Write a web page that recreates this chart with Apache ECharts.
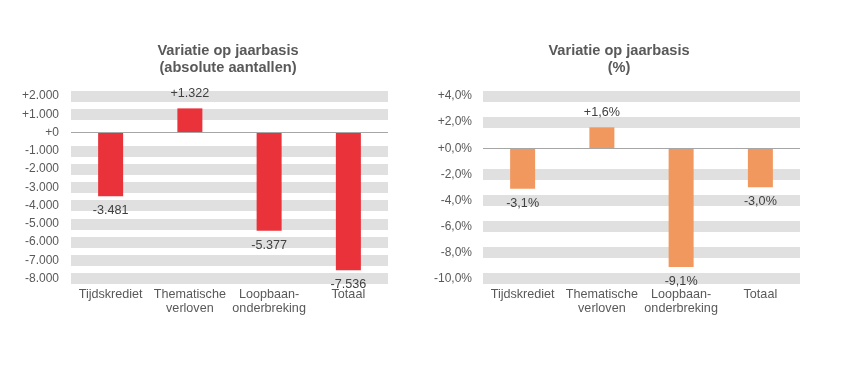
<!DOCTYPE html>
<html>
<head>
<meta charset="utf-8">
<script src="https://cdn.jsdelivr.net/npm/echarts@6/dist/echarts.min.js"></script>
<style>
html,body{margin:0;padding:0;background:#fff;}
#c{width:854px;height:370px;}
</style>
</head>
<body>
<div id="c"></div>
<script>
const categories = ['Tijdskrediet', 'Thematische\nverloven', 'Loopbaan-\nonderbreking', 'Totaal'];
const absValues = [-3481, 1322, -5377, -7536];
const pctValues = [-3.1, 1.6, -9.1, -3.0];
const absTicks = [-8000, -7000, -6000, -5000, -4000, -3000, -2000, -1000, 0, 1000, 2000];
const pctTicks = [-10, -8, -6, -4, -2, 0, 2, 4];
const leftTitle = 'Variatie op jaarbasis\n(absolute aantallen)';
const rightTitle = 'Variatie op jaarbasis\n(%)';

function fmtAbs(v) {
  const sign = v >= 0 ? '+' : '-';
  const s = String(Math.abs(Math.round(v))).replace(/\B(?=(\d{3})+(?!\d))/g, '.');
  return sign + s;
}
function fmtPct(v) {
  const sign = v >= 0 ? '+' : '-';
  return sign + Math.abs(v).toFixed(1).replace('.', ',') + '%';
}
function bandColors(ticks) {
  return ticks.map(t => t === 0 ? 'rgba(0,0,0,0)' : '#e0e0e0');
}
function barData(vals) {
  return vals.map(v => ({
    value: v,
    label: { position: v < 0 ? 'bottom' : 'top' }
  }));
}
const FONT = 'Liberation Sans, Arial, sans-serif';
const yFont = { fontFamily: FONT, fontSize: 12, color: '#595959' };
const xFont = { fontFamily: FONT, fontSize: 12.6, color: '#595959' };
const titleStyle = { fontFamily: FONT, fontSize: 14.6, fontWeight: 'bold', color: '#595959', lineHeight: 17.5 };

const chart = echarts.init(document.getElementById('c'), null, { renderer: 'canvas' });
chart.setOption({
  animation: false,
  backgroundColor: '#fff',
  title: [
    { text: leftTitle, left: 228, top: 42, textAlign: 'center', padding: 0, textStyle: titleStyle },
    { text: rightTitle, left: 619, top: 42, textAlign: 'center', padding: 0, textStyle: titleStyle }
  ],
  grid: [
    { left: 71, top: 96, width: 317, height: 182.7 },
    { left: 483, top: 96, width: 317, height: 182.7 }
  ],
  xAxis: [
    { type: 'category', gridIndex: 0, data: categories, position: 'bottom',
      axisLine: { show: false }, axisTick: { show: false }, splitLine: { show: false },
      axisLabel: Object.assign({ margin: 9, lineHeight: 14, interval: 0 }, xFont) },
    { type: 'category', gridIndex: 1, data: categories, position: 'bottom',
      axisLine: { show: false }, axisTick: { show: false }, splitLine: { show: false },
      axisLabel: Object.assign({ margin: 9, lineHeight: 14, interval: 0 }, xFont) }
  ],
  yAxis: [
    { type: 'value', gridIndex: 0, min: absTicks[0], max: absTicks[absTicks.length - 1], interval: 1000,
      axisLine: { show: false }, axisTick: { show: false },
      splitLine: { show: true, showMinLine: true, showMaxLine: true, lineStyle: { width: 11, color: bandColors(absTicks) } },
      axisLabel: Object.assign({ margin: 12, formatter: fmtAbs }, yFont) },
    { type: 'value', gridIndex: 1, min: pctTicks[0], max: pctTicks[pctTicks.length - 1], interval: 2,
      axisLine: { show: false }, axisTick: { show: false },
      splitLine: { show: true, showMinLine: true, showMaxLine: true, lineStyle: { width: 11, color: bandColors(pctTicks) } },
      axisLabel: Object.assign({ margin: 11, formatter: fmtPct }, yFont) }
  ],
  series: [
    { type: 'bar', xAxisIndex: 0, yAxisIndex: 0, barWidth: 25,
      itemStyle: { color: '#e9323a' },
      data: barData(absValues),
      label: { show: true, distance: 8, fontFamily: FONT, fontSize: 12.6, color: '#404040',
        formatter: p => fmtAbs(p.value) },
      markLine: { silent: true, symbol: 'none', label: { show: false },
        lineStyle: { color: '#a6a6a6', width: 1, type: 'solid' }, data: [{ yAxis: 0 }] } },
    { type: 'bar', xAxisIndex: 1, yAxisIndex: 1, barWidth: 25,
      itemStyle: { color: '#f1985e' },
      data: barData(pctValues),
      label: { show: true, distance: 8, fontFamily: FONT, fontSize: 12.6, color: '#404040',
        formatter: p => fmtPct(p.value) },
      markLine: { silent: true, symbol: 'none', label: { show: false },
        lineStyle: { color: '#a6a6a6', width: 1, type: 'solid' }, data: [{ yAxis: 0 }] } }
  ]
});
</script>
</body>
</html>
